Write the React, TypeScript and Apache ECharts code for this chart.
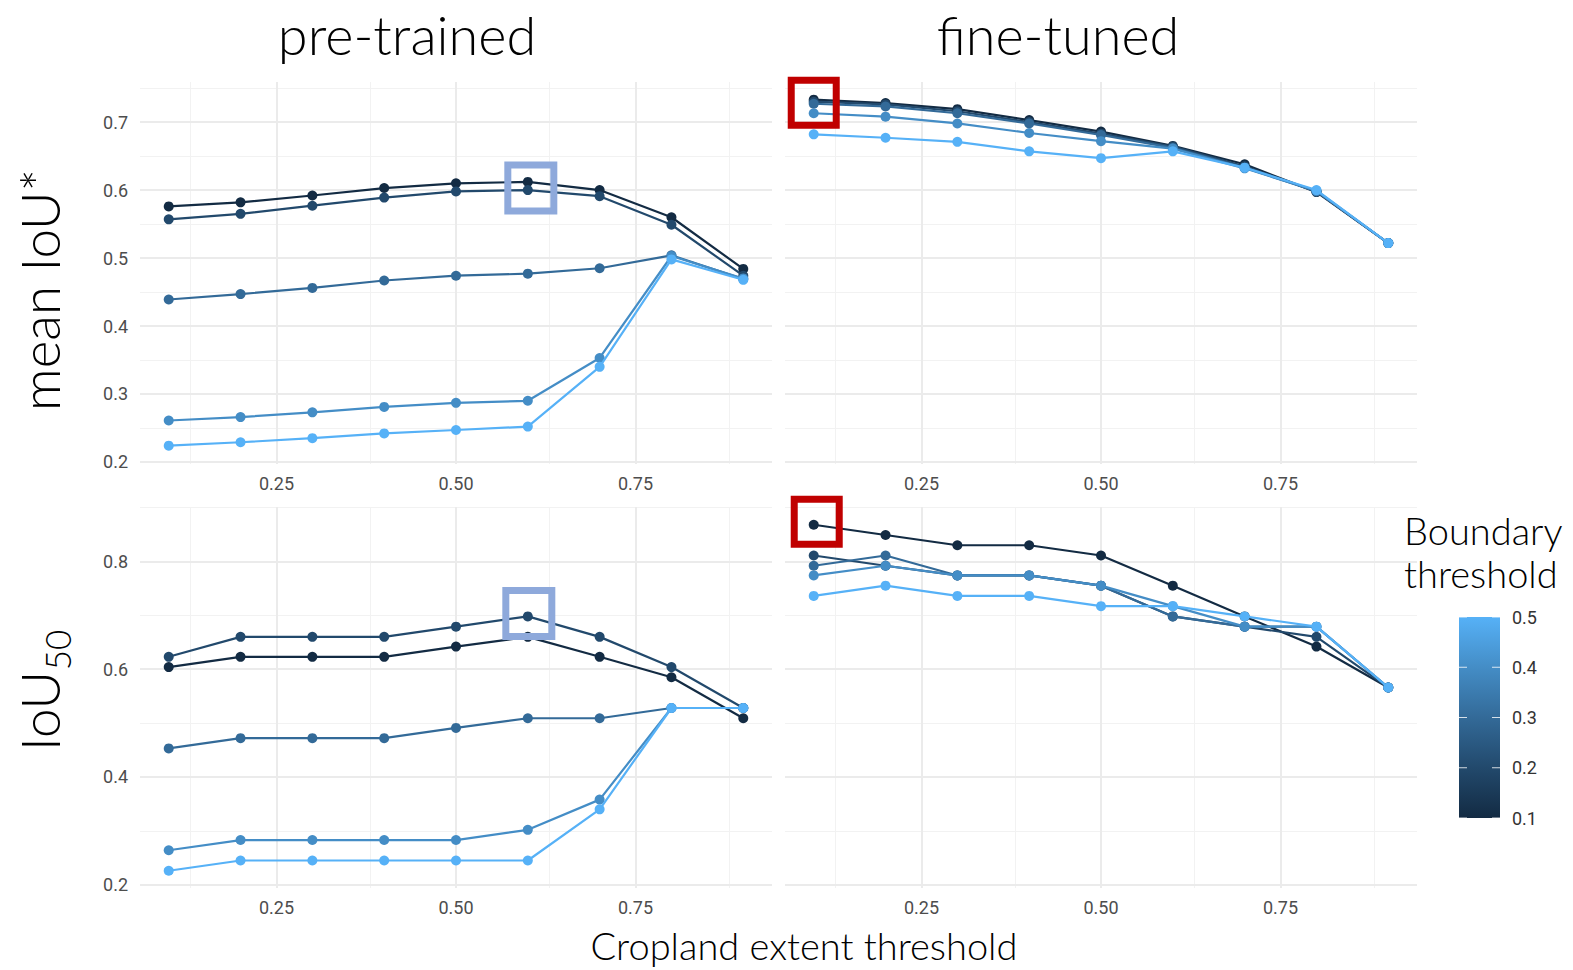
import React, { useEffect, useRef } from "react";
import * as echarts from "echarts";

// ---------- data ----------
const cropThresholds = [0.1, 0.2, 0.3, 0.4, 0.5, 0.6, 0.7, 0.8, 0.9];
const boundaryThresholds = [0.1, 0.2, 0.3, 0.4, 0.5];

// pre-trained, mean IoU*
const preMean_b01 = [0.576, 0.582, 0.592, 0.603, 0.61, 0.612, 0.6, 0.56, 0.484];
const preMean_b02 = [0.557, 0.565, 0.577, 0.589, 0.598, 0.6, 0.591, 0.549, 0.474];
const preMean_b03 = [0.439, 0.447, 0.456, 0.467, 0.474, 0.477, 0.485, 0.504, 0.469];
const preMean_b04 = [0.261, 0.266, 0.273, 0.281, 0.287, 0.29, 0.353, 0.503, 0.47];
const preMean_b05 = [0.224, 0.229, 0.235, 0.242, 0.247, 0.252, 0.34, 0.498, 0.468];

// fine-tuned, mean IoU*
const ftMean_b01 = [0.733, 0.728, 0.719, 0.703, 0.686, 0.665, 0.638, 0.597, 0.522];
const ftMean_b02 = [0.73, 0.726, 0.716, 0.7, 0.683, 0.664, 0.635, 0.598, 0.522];
const ftMean_b03 = [0.727, 0.723, 0.713, 0.698, 0.681, 0.662, 0.633, 0.598, 0.522];
const ftMean_b04 = [0.713, 0.708, 0.698, 0.684, 0.672, 0.661, 0.632, 0.599, 0.522];
const ftMean_b05 = [0.682, 0.677, 0.671, 0.657, 0.647, 0.657, 0.633, 0.6, 0.522];

// pre-trained, IoU50
const preIoU50_b01 = [0.604, 0.623, 0.623, 0.623, 0.642, 0.66, 0.623, 0.585, 0.509];
const preIoU50_b02 = [0.623, 0.66, 0.66, 0.66, 0.679, 0.698, 0.66, 0.604, 0.528];
const preIoU50_b03 = [0.453, 0.472, 0.472, 0.472, 0.491, 0.509, 0.509, 0.528, 0.528];
const preIoU50_b04 = [0.264, 0.283, 0.283, 0.283, 0.283, 0.302, 0.358, 0.528, 0.528];
const preIoU50_b05 = [0.226, 0.245, 0.245, 0.245, 0.245, 0.245, 0.34, 0.528, 0.528];

// fine-tuned, IoU50
const ftIoU50_b01 = [0.868, 0.849, 0.83, 0.83, 0.811, 0.755, 0.698, 0.642, 0.566];
const ftIoU50_b02 = [0.811, 0.792, 0.774, 0.774, 0.755, 0.698, 0.679, 0.66, 0.566];
const ftIoU50_b03 = [0.792, 0.811, 0.774, 0.774, 0.755, 0.698, 0.679, 0.679, 0.566];
const ftIoU50_b04 = [0.774, 0.792, 0.774, 0.774, 0.755, 0.717, 0.679, 0.679, 0.566];
const ftIoU50_b05 = [0.736, 0.755, 0.736, 0.736, 0.717, 0.717, 0.698, 0.679, 0.566];

const preMean = [preMean_b01, preMean_b02, preMean_b03, preMean_b04, preMean_b05];
const ftMean = [ftMean_b01, ftMean_b02, ftMean_b03, ftMean_b04, ftMean_b05];
const preIoU50 = [preIoU50_b01, preIoU50_b02, preIoU50_b03, preIoU50_b04, preIoU50_b05];
const ftIoU50 = [ftIoU50_b01, ftIoU50_b02, ftIoU50_b03, ftIoU50_b04, ftIoU50_b05];

// tick labels
const xTickLabels = [0.25, 0.5, 0.75];
const xMinorLines = [0.125, 0.375, 0.625, 0.875];
const meanTickLabels = [0.2, 0.3, 0.4, 0.5, 0.6, 0.7];
const meanMinorLines = [0.25, 0.35, 0.45, 0.55, 0.65, 0.75];
const iou50TickLabels = [0.2, 0.4, 0.6, 0.8];
const iou50MinorLines = [0.3, 0.5, 0.7, 0.9];
const legendTickLabels = [0.1, 0.2, 0.3, 0.4, 0.5];

// ---------- styles ----------
const lineColors = ["#132B43", "#22496C", "#336A98", "#448DC6", "#56B1F7"];
const TITLE_FONT = "Lato, 'Noto Sans', sans-serif";
const TICK_FONT = "Roboto, 'Liberation Sans', Arial, sans-serif";
const GRID_MAJOR = "#EBEBEB";
const GRID_MINOR = "#F2F2F2";

const panels = [
  { grid: { left: 140, top: 82, width: 632, height: 382 }, min: 0.197, max: 0.759, data: preMean, yTicks: meanTickLabels, yMinor: meanMinorLines, showY: true },
  { grid: { left: 785, top: 82, width: 632, height: 382 }, min: 0.197, max: 0.759, data: ftMean, yTicks: meanTickLabels, yMinor: meanMinorLines, showY: false },
  { grid: { left: 140, top: 507, width: 632, height: 381 }, min: 0.194, max: 0.901, data: preIoU50, yTicks: iou50TickLabels, yMinor: iou50MinorLines, showY: true },
  { grid: { left: 785, top: 507, width: 632, height: 381 }, min: 0.194, max: 0.901, data: ftIoU50, yTicks: iou50TickLabels, yMinor: iou50MinorLines, showY: false },
];

function boxMark(coord: number[], color: string, size: number, offset: number[]) {
  return {
    silent: true,
    z: 20,
    label: { show: false },
    data: [
      {
        coord,
        symbol: "rect",
        symbolSize: size,
        symbolOffset: offset,
        itemStyle: { color: "rgba(0,0,0,0)", borderColor: color, borderWidth: 7 },
      },
    ],
  };
}

function buildOption() {
  const grids = panels.map((p) => ({ ...p.grid, containLabel: false }));
  const xAxes = panels.map((p, i) => ({
    type: "value",
    gridIndex: i,
    min: 0.06,
    max: 0.94,
    axisLine: { show: false },
    axisTick: { show: false },
    splitLine: { show: false },
    axisLabel: {
      customValues: xTickLabels,
      formatter: (v: number) => v.toFixed(2),
      color: "#4D4D4D",
      fontSize: 18,
      fontFamily: TICK_FONT,
      margin: 10,
    },
  }));
  const yAxes = panels.map((p, i) => ({
    type: "value",
    gridIndex: i,
    min: p.min,
    max: p.max,
    axisLine: { show: false },
    axisTick: { show: false },
    splitLine: { show: false },
    axisLabel: {
      show: p.showY,
      customValues: p.yTicks,
      formatter: (v: number) => v.toFixed(1),
      color: "#4D4D4D",
      fontSize: 18,
      fontFamily: TICK_FONT,
      margin: 12,
    },
  }));

  const series: any[] = [];
  panels.forEach((p, i) => {
    const major = (v: number, key: string) => ({ [key]: v, lineStyle: { color: GRID_MAJOR, width: 2, type: "solid" } });
    const minor = (v: number, key: string) => ({ [key]: v, lineStyle: { color: GRID_MINOR, width: 1, type: "solid" } });
    series.push({
      type: "line",
      xAxisIndex: i,
      yAxisIndex: i,
      data: [],
      silent: true,
      z: 1,
      markLine: {
        silent: true,
        z: 1,
        symbol: ["none", "none"],
        label: { show: false },
        emphasis: { disabled: true },
        data: [
          ...p.yMinor.map((v) => minor(v, "yAxis")),
          ...xMinorLines.map((v) => minor(v, "xAxis")),
          ...p.yTicks.map((v) => major(v, "yAxis")),
          ...xTickLabels.map((v) => major(v, "xAxis")),
        ],
      },
    });
    p.data.forEach((vals, k) => {
      const s: any = {
        type: "line",
        name: String(boundaryThresholds[k]),
        xAxisIndex: i,
        yAxisIndex: i,
        data: cropThresholds.map((x, j) => [x, vals[j]]),
        symbol: "circle",
        symbolSize: 10,
        showSymbol: true,
        lineStyle: { color: lineColors[k], width: 2.2 },
        itemStyle: { color: lineColors[k] },
        z: 2 + k,
        silent: true,
      };
      series.push(s);
    });
  });

  // annotation boxes anchored to data points
  series[1].markPoint = boxMark([cropThresholds[5], preMean_b01[5]], "#8EA9DB", 46, [3, 6]);
  series[7].markPoint = boxMark([cropThresholds[0], ftMean_b01[0]], "#C00000", 45, [0, 3]);
  series[13].markPoint = boxMark([cropThresholds[5], preIoU50_b02[5]], "#8EA9DB", 46, [1, -3]);
  series[19].markPoint = boxMark([cropThresholds[0], ftIoU50_b01[0]], "#C00000", 45, [3, -3]);

  // colorbar legend
  const barX = 1459, barY = 617, barW = 41, barH = 201;
  const lMin = legendTickLabels[0], lMax = legendTickLabels[legendTickLabels.length - 1];
  const yOf = (v: number) => barY + ((lMax - v) / (lMax - lMin)) * barH;
  const legendEls: any[] = [
    {
      type: "rect",
      shape: { x: barX, y: barY, width: barW, height: barH },
      style: {
        fill: new echarts.graphic.LinearGradient(0, 0, 0, 1, [
          { offset: 0, color: lineColors[4] },
          { offset: 0.25, color: lineColors[3] },
          { offset: 0.5, color: lineColors[2] },
          { offset: 0.75, color: lineColors[1] },
          { offset: 1, color: lineColors[0] },
        ]),
      },
    },
  ];
  legendTickLabels.forEach((v) => {
    const y = yOf(v);
    legendEls.push({ type: "line", shape: { x1: barX, y1: y, x2: barX + 8, y2: y }, style: { stroke: "#FFFFFF", lineWidth: 1, opacity: 0.8 } });
    legendEls.push({ type: "line", shape: { x1: barX + barW - 8, y1: y, x2: barX + barW, y2: y }, style: { stroke: "#FFFFFF", lineWidth: 1, opacity: 0.8 } });
    legendEls.push({
      type: "text",
      x: barX + barW + 12,
      y,
      style: { text: v.toFixed(1), fontSize: 18, fontFamily: TICK_FONT, fill: "#333333", align: "left", verticalAlign: "middle" },
    });
  });

  const textEl = (text: string, x: number, y: number, size: number, opts: any = {}) => ({
    type: "text",
    x,
    y,
    rotation: opts.rotation || 0,
    style: {
      text,
      fontSize: size,
      fontFamily: TITLE_FONT,
      fontWeight: 300,
      fill: "#000000",
      align: opts.align || "center",
      verticalAlign: "middle",
    },
  });

  const graphic = [
    textEl("pre-trained", 407, 34, 54),
    textEl("fine-tuned", 1058, 34, 54),
    textEl("mean IoU*", 39, 290, 53, { rotation: Math.PI / 2 }),
    textEl("IoU", 39, 711, 53, { rotation: Math.PI / 2 }),
    textEl("50", 57, 650, 35, { rotation: Math.PI / 2 }),
    textEl("Cropland extent threshold", 804, 945, 38),
    textEl("Boundary", 1404, 530, 38, { align: "left" }),
    textEl("threshold", 1404, 573, 38, { align: "left" }),
    ...legendEls,
  ];

  return {
    animation: false,
    backgroundColor: "#FFFFFF",
    grid: grids,
    xAxis: xAxes,
    yAxis: yAxes,
    series,
    graphic,
  };
}

export default function App() {
  const ref = useRef<HTMLDivElement>(null);
  useEffect(() => {
    if (!ref.current) return;
    const chart = echarts.init(ref.current, undefined, { renderer: "svg" });
    chart.setOption(buildOption() as any);
    return () => chart.dispose();
  }, []);
  return (
    <div
      ref={ref}
      style={{ position: "fixed", left: 0, top: 0, width: 1573, height: 970, background: "#fff" }}
    />
  );
}
